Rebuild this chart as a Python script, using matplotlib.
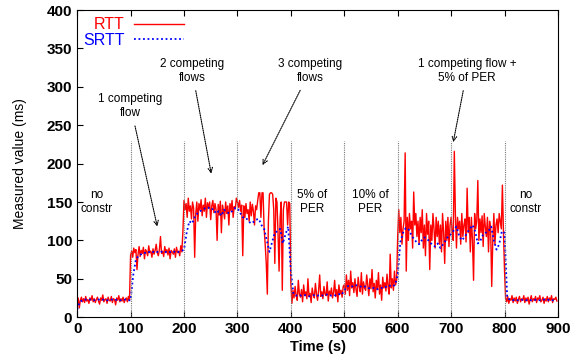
import numpy as np
import matplotlib.pyplot as plt

plt.rcParams['font.family'] = ['Liberation Sans', 'DejaVu Sans']

# RTT samples, one every 2 s
rtt_seg0 = [18, 25, 12, 22, 26, 20, 24, 19, 27, 21,
            23, 18, 25, 22, 28, 20, 24, 19, 23, 26,
            21, 17, 25, 22, 29, 20, 23, 24, 18, 26,
            22, 21, 27, 19, 24, 23, 16, 25, 22, 28,
            20, 24, 21, 26, 19, 23, 25, 20, 27, 22]
rtt_seg1 = [80, 86, 78, 90, 84, 88, 62, 82, 92, 79,
            87, 83, 91, 76, 88, 85, 80, 93, 84, 86,
            78, 89, 82, 87, 95, 84, 80, 88, 105, 83,
            86, 79, 92, 84, 88, 81, 90, 76, 87, 85,
            82, 89, 78, 91, 84, 86, 80, 93, 85, 112]
rtt_seg2 = [152, 140, 148, 130, 155, 138, 145, 128, 150, 142,
            78, 135, 150, 125, 148, 140, 153, 132, 146, 138,
            155, 130, 149, 142, 150, 127, 145, 152, 136, 148,
            140, 100, 147, 133, 151, 110, 146, 138, 128, 150,
            135, 145, 120, 148, 139, 152, 130, 144, 141, 155]
rtt_seg3 = [150, 143, 152, 138, 146, 80, 145, 130, 148, 135,
            140, 125, 150, 132, 147, 138, 120, 145, 140, 152,
            162, 162, 130, 162, 162, 115, 95, 70, 30, 125,
            160, 162, 162, 160, 140, 70, 155, 150, 110, 60,
            130, 150, 35, 140, 150, 150, 150, 120, 150, 148]
rtt_seg4 = [45, 18, 35, 25, 40, 28, 22, 48, 30, 26,
            36, 20, 42, 28, 33, 24, 50, 27, 31, 19,
            38, 29, 25, 44, 30, 22, 35, 55, 27, 33,
            24, 40, 30, 28, 46, 21, 34, 29, 38, 25,
            32, 48, 27, 36, 20, 42, 30, 35, 26, 40]
rtt_seg5 = [42, 30, 55, 35, 48, 28, 60, 38, 45, 32,
            50, 36, 27, 52, 40, 33, 58, 30, 46, 38,
            35, 55, 42, 28, 50, 37, 62, 33, 44, 25,
            48, 36, 58, 30, 42, 22, 52, 38, 45, 34,
            56, 40, 30, 82, 38, 50, 35, 60, 42, 48]
rtt_seg6 = [105, 140, 110, 130, 95, 115, 125, 214, 60, 130,
            100, 135, 115, 125, 90, 163, 120, 135, 105, 125,
            95, 130, 110, 140, 90, 120, 80, 135, 108, 125,
            62, 120, 100, 135, 115, 90, 130, 105, 125, 95,
            120, 85, 135, 110, 70, 125, 100, 130, 92, 120]
rtt_seg7 = [130, 110, 100, 216, 135, 90, 130, 115, 125, 95,
            135, 105, 120, 128, 98, 168, 110, 130, 85, 130,
            100, 48, 135, 115, 125, 178, 100, 128, 110, 132,
            92, 135, 118, 105, 130, 85, 125, 115, 40, 100,
            135, 95, 120, 128, 110, 135, 125, 115, 172, 110]
rtt_seg8 = [60, 25, 20, 27, 18, 24, 22, 28, 19, 25,
            21, 26, 18, 23, 27, 20, 24, 22, 28, 19,
            25, 21, 26, 17, 23, 28, 20, 24, 22, 27,
            19, 25, 23, 28, 20, 22, 26, 18, 24, 21,
            27, 20, 25, 22, 28, 19, 24, 23, 26, 21]

# SRTT samples, one every 5 s
srtt_vals = [10, 20, 22, 23, 22, 23, 22, 22, 23, 22, 23, 22, 22, 23, 22, 23, 22, 22, 23, 22,
             22, 55, 75, 80, 82, 84, 83, 85, 84, 86, 85, 84, 86, 85, 84, 85, 86, 84, 85, 86,
             88, 110, 125, 122, 130, 135, 138, 140, 142, 143, 140, 141, 135, 138, 132, 140, 137, 135, 138, 142,
             142, 136, 130, 130, 126, 122, 124, 127, 128, 120, 115, 100, 85, 98, 110, 112, 115, 96, 108, 118,
             60, 30, 28, 29, 28, 29, 28, 27, 28, 29, 28, 29, 28, 29, 30, 28, 29, 28, 30, 29,
             35, 40, 41, 40, 42, 41, 40, 39, 40, 38, 37, 38, 36, 37, 38, 40, 39, 41, 40, 42,
             55, 98, 110, 116, 115, 108, 102, 98, 95, 100, 104, 102, 98, 94, 92, 96, 90, 95, 100, 106,
             108, 113, 118, 106, 100, 104, 110, 115, 120, 112, 96, 100, 108, 110, 112, 118, 100, 88, 95, 112,
             110, 25, 23, 22, 23, 22, 22, 23, 22, 23, 22, 22, 23, 22, 22, 23, 22, 23, 22, 22]

phase_bounds = [100, 200, 300, 400, 500, 600, 700, 800]

rtt = (rtt_seg0 + rtt_seg1 + rtt_seg2 + rtt_seg3 + rtt_seg4 +
       rtt_seg5 + rtt_seg6 + rtt_seg7 + rtt_seg8)
rtt_t = np.arange(len(rtt)) * 2
srtt_t = np.arange(len(srtt_vals)) * 5

fig, ax = plt.subplots(figsize=(5.8, 3.6), dpi=100)
fig.subplots_adjust(left=0.133, right=0.962, top=0.972, bottom=0.119)

ax.plot(rtt_t, rtt, color='#ff0000', lw=1.0, label='RTT')
ax.plot(srtt_t, srtt_vals, color='#0000ff', lw=1.3, linestyle=(0, (1, 1.5)), label='SRTT')

for b in phase_bounds:
    ax.plot([b, b], [0, 230], color='#777777', lw=0.8, linestyle=(0, (1, 1)))

txt = dict(fontsize=8.5, ha='center', va='center', linespacing=1.25)
ax.text(37, 150, 'no\nconstr', **txt)
ax.text(440, 150, '5% of\nPER', **txt)
ax.text(548, 150, '10% of\nPER', **txt)
ax.text(840, 150, 'no\nconstr', **txt)

arr = dict(arrowstyle='->', linestyle=(0, (1, 1)), color='black', lw=0.8,
           shrinkA=3, shrinkB=0)
ax.annotate('1 competing\nflow', xy=(150, 118), xytext=(100, 275),
            arrowprops=arr, **txt)
ax.annotate('2 competing\nflows', xy=(251, 187), xytext=(215, 321),
            arrowprops=arr, **txt)
ax.annotate('3 competing\nflows', xy=(347, 198), xytext=(436, 321),
            arrowprops=arr, **txt)
ax.annotate('1 competing flow +\n5% of PER', xy=(704, 228), xytext=(730, 321),
            arrowprops=arr, **txt)

ax.set_xlim(0, 900)
ax.set_ylim(0, 400)
ax.set_xticks(range(0, 901, 100))
ax.set_yticks(range(0, 401, 50))
ax.tick_params(direction='in', top=True, right=False, length=4, labelsize=11)
for lab in ax.get_xticklabels() + ax.get_yticklabels():
    lab.set_fontweight('bold')
ax.set_xlabel('Time (s)', fontsize=10.5, fontweight='bold', labelpad=3)
ax.set_ylabel('Measured value (ms)', fontsize=10, labelpad=14)

leg = ax.legend(loc='upper left', bbox_to_anchor=(0.0125, 0.977), frameon=False,
                markerfirst=False, labelcolor='linecolor', handlelength=3.1,
                handletextpad=0.6, fontsize=11.5, labelspacing=0.05,
                borderpad=0, borderaxespad=0)

plt.savefig('out.png')
